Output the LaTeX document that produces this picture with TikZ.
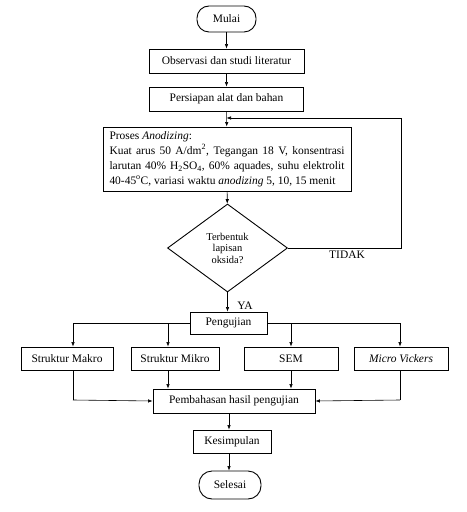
\documentclass[tikz,border=0pt]{standalone}
\usepackage{fontspec}
\setmainfont{Liberation Serif}
\usetikzlibrary{shapes.geometric,arrows.meta}
\begin{document}
\begin{tikzpicture}[x=1bp,y=-1bp,
 box/.style={draw, line width=0.9pt, inner sep=0pt, font=\fontsize{11.5}{13}\selectfont},
 term/.style={box, rounded corners=12bp},
 conn/.style={line width=0.6pt, -{Latex[length=4.5bp,width=3.5bp]}},
 plain/.style={line width=0.6pt},
 lbl/.style={inner sep=0pt, font=\fontsize{11.5}{13}\selectfont}]
\useasboundingbox (0,0) rectangle (467,512);
\fill[white] (0,0) rectangle (467,512);

\node[term, minimum width=59bp, minimum height=26bp] (mulai) at (226.5,19) {Mulai};
\node[box, minimum width=155bp, minimum height=24bp] (obs) at (226.5,61) {Observasi dan studi literatur};
\node[box, minimum width=154bp, minimum height=24bp] (pers) at (226.5,99) {Persiapan alat dan bahan};
\node[box, minimum width=248bp, minimum height=64bp, align=left, font=\fontsize{11.5}{15}\selectfont] (anod) at (227,159)
 {Proses \textit{Anodizing}:\\
  \makebox[235bp][s]{Kuat arus 50 A/dm\textsuperscript{2}, Tegangan 18 V, konsentrasi}\\
  \makebox[235bp][s]{larutan 40\% H\textsubscript{2}SO\textsubscript{4}, 60\% aquades, suhu elektrolit}\\
  40-45\textsuperscript{o}C, variasi waktu \textit{anodizing} 5, 10, 15 menit};
\node[box, diamond, minimum width=120bp, minimum height=88bp, align=center, font=\fontsize{10.5}{11.5}\selectfont] (dec) at (227.5,248)
 {Terbentuk\\lapisan\\oksida?};
\node[box, minimum width=77bp, minimum height=22bp] (peng) at (228.5,323) {Pengujian};
\node[box, minimum width=92bp, minimum height=23bp] (makro) at (67,358.5) {Struktur Makro};
\node[box, minimum width=88bp, minimum height=23bp] (mikro) at (175,358.5) {Struktur Mikro};
\node[box, minimum width=94bp, minimum height=23bp] (sem) at (291,358.5) {SEM};
\node[box, minimum width=94bp, minimum height=23bp] (vick) at (401,358.5) {\textit{Micro Vickers}};
\node[box, minimum width=162bp, minimum height=24bp] (pemb) at (234,401) {Pembahasan hasil pengujian};
\node[box, minimum width=78bp, minimum height=23bp] (kes) at (232,441.5) {Kesimpulan};
\node[term, minimum width=62bp, minimum height=28bp, rounded corners=13bp] (sel) at (230,485) {Selesai};

\node[lbl] (tidak) at (347,255) {TIDAK};
\node[lbl] (ya) at (245,306) {YA};

\coordinate (fbr) at (401,248);
\coordinate (fbt) at (401,118);
\coordinate (fbin) at (226.5,118);
\coordinate (lb) at (73,323);
\coordinate (lm) at (168,323);
\coordinate (rs) at (291,323);
\coordinate (rv) at (400,323);
\coordinate (bm) at (73,400);
\coordinate (bv) at (400,400);
\coordinate (ax) at (229,0);

\draw[conn] (mulai) -- (obs);
\draw[conn] (obs) -- (pers);
\draw[conn] (pers) -- (anod);
\draw[conn] (anod) -- (dec);
\draw[plain] (dec.east) -- (fbr) -- (fbt);
\draw[conn] (fbt) -- (fbin);
\draw[conn] (dec.south) -- (dec.south |- peng.north);
\draw[plain] (peng.west) -- (lb);
\draw[plain] (peng.east) -- (rv);
\draw[conn] (lb) -- (lb |- makro.north);
\draw[conn] (lm) -- (lm |- mikro.north);
\draw[conn] (rs) -- (rs |- sem.north);
\draw[conn] (rv) -- (rv |- vick.north);
\draw[plain] (lb |- makro.south) -- (bm);
\draw[conn] (bm) -- (pemb.west);
\draw[conn] (lm |- mikro.south) -- (lm |- pemb.north);
\draw[conn] (rs |- sem.south) -- (rs |- pemb.north);
\draw[plain] (rv |- vick.south) -- (bv);
\draw[conn] (bv) -- (pemb.east);
\draw[conn] (ax |- pemb.south) -- (ax |- kes.north);
\draw[conn] (ax |- kes.south) -- (ax |- sel.north);
\end{tikzpicture}
\end{document}
